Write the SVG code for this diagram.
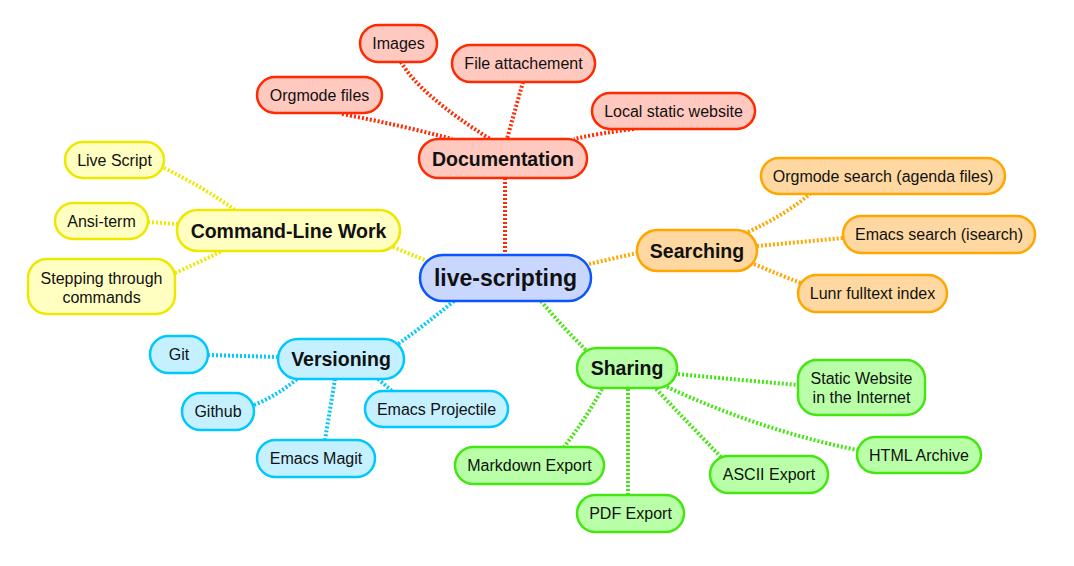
<svg xmlns="http://www.w3.org/2000/svg" width="1074" height="566" viewBox="0 0 1074 566">
<style>
text{font-family:"Liberation Sans",Arial,sans-serif;fill:#111;text-anchor:middle;dominant-baseline:central}
.leaf{font-size:16px}
.br{font-size:19.5px;font-weight:bold}
.root{font-size:23px;font-weight:bold}
rect{stroke-width:2.5}
.red rect{fill:#ffc9bf;stroke:#ff2a00}
.yel rect{fill:#ffffc2;stroke:#eee800}
.org rect{fill:#fed8a0;stroke:#ffa600}
.blu rect{fill:#c9d7ff;stroke:#0a55ff}
.cyn rect{fill:#c4f0ff;stroke:#00c8ff}
.grn rect{fill:#b8ffa8;stroke:#44e611}
#connectors path{fill:none;stroke-width:4;stroke-dasharray:2 2}
.cr{stroke:#ff2a00}.cy{stroke:#eee800}.co{stroke:#ffa600}.cc{stroke:#00c8ff}.cg{stroke:#44e611}
</style>
<rect width="1074" height="566" fill="#fff" stroke="none"/>
<g id="connectors">
<path class="cr" d="M505 178 L505 255"/>
<path class="cr" d="M342 114 Q400 125 452 139"/>
<path class="cr" d="M401 62 Q420 95 490 139"/>
<path class="cr" d="M523 82 Q515 110 507 139"/>
<path class="cr" d="M634 129 Q600 133 574 139"/>
<path class="cy" d="M393 247 L427 261"/>
<path class="cy" d="M164 168 Q205 188 235 210"/>
<path class="cy" d="M148 222 L177 224"/>
<path class="cy" d="M175 273 Q200 262 222 251"/>
<path class="co" d="M589 264 L637 253"/>
<path class="co" d="M748 232 Q785 215 810 194"/>
<path class="co" d="M757 246 L843 238"/>
<path class="co" d="M754 264 Q780 275 801 283"/>
<path class="cc" d="M454 301 Q425 325 398 344"/>
<path class="cc" d="M208 355 L278 357"/>
<path class="cc" d="M254 405 Q278 395 297 379"/>
<path class="cc" d="M335 379 L325 440"/>
<path class="cc" d="M378 379 L392 391"/>
<path class="cg" d="M541 301 Q565 330 588 352"/>
<path class="cg" d="M678 374 Q740 380 798 385"/>
<path class="cg" d="M667 387 Q760 430 857 450"/>
<path class="cg" d="M656 389 Q690 425 721 457"/>
<path class="cg" d="M628 389 L628 495"/>
<path class="cg" d="M602 389 Q585 420 564 447"/>
</g>
<g id="live-scripting" class="blu"><rect x="420" y="255" width="171" height="46" rx="23"/><text class="root" x="505.5" y="278">live-scripting</text></g>
<g id="documentation" class="red"><rect x="419" y="139" width="168" height="39" rx="19.5"/><text class="br" x="503" y="158.5">Documentation</text></g>
<g id="images" class="red"><rect x="360" y="25" width="77" height="37" rx="18.5"/><text class="leaf" x="398.5" y="43.5">Images</text></g>
<g id="file-attachement" class="red"><rect x="452" y="45" width="143" height="37" rx="18.5"/><text class="leaf" x="523.5" y="63.5">File attachement</text></g>
<g id="orgmode-files" class="red"><rect x="257" y="77" width="125" height="36" rx="18"/><text class="leaf" x="319.5" y="95">Orgmode files</text></g>
<g id="local-static-website" class="red"><rect x="592" y="93" width="163" height="36" rx="18"/><text class="leaf" x="673.5" y="111">Local static website</text></g>
<g id="command-line-work" class="yel"><rect x="177" y="210" width="223" height="41" rx="20.5"/><text class="br" x="288.5" y="230.5">Command-Line Work</text></g>
<g id="live-script" class="yel"><rect x="65" y="142" width="99" height="36" rx="18"/><text class="leaf" x="114.5" y="160">Live Script</text></g>
<g id="ansi-term" class="yel"><rect x="55" y="203" width="93" height="36" rx="18"/><text class="leaf" x="101.5" y="221">Ansi-term</text></g>
<g id="stepping" class="yel"><rect x="28" y="259" width="147" height="55" rx="19"/><text class="leaf" x="101.5" y="278">Stepping through</text><text class="leaf" x="101.5" y="297">commands</text></g>
<g id="searching" class="org"><rect x="637" y="230" width="120" height="41" rx="20.5"/><text class="br" x="697" y="250.5">Searching</text></g>
<g id="orgmode-search" class="org"><rect x="761" y="158" width="244" height="36" rx="18"/><text class="leaf" x="883" y="176">Orgmode search (agenda files)</text></g>
<g id="emacs-search" class="org"><rect x="843" y="216" width="192" height="37" rx="18.5"/><text class="leaf" x="939" y="234.5">Emacs search (isearch)</text></g>
<g id="lunr" class="org"><rect x="798" y="275" width="149" height="37" rx="18.5"/><text class="leaf" x="872.5" y="293.5">Lunr fulltext index</text></g>
<g id="versioning" class="cyn"><rect x="278" y="339" width="126" height="40" rx="20"/><text class="br" x="341" y="359">Versioning</text></g>
<g id="git" class="cyn"><rect x="150" y="336" width="58" height="37" rx="18.5"/><text class="leaf" x="179" y="354.5">Git</text></g>
<g id="github" class="cyn"><rect x="182" y="393" width="72" height="37" rx="18.5"/><text class="leaf" x="218" y="411.5">Github</text></g>
<g id="emacs-projectile" class="cyn"><rect x="365" y="391" width="143" height="36" rx="18"/><text class="leaf" x="436.5" y="409">Emacs Projectile</text></g>
<g id="emacs-magit" class="cyn"><rect x="257" y="440" width="118" height="37" rx="18.5"/><text class="leaf" x="316" y="458.5">Emacs Magit</text></g>
<g id="sharing" class="grn"><rect x="577" y="348" width="100" height="40" rx="20"/><text class="br" x="627" y="368">Sharing</text></g>
<g id="static-website" class="grn"><rect x="798" y="360" width="127" height="55" rx="19"/><text class="leaf" x="861.5" y="378">Static Website</text><text class="leaf" x="861.5" y="397">in the Internet</text></g>
<g id="html-archive" class="grn"><rect x="857" y="437" width="124" height="36" rx="18"/><text class="leaf" x="919" y="455">HTML Archive</text></g>
<g id="ascii-export" class="grn"><rect x="710" y="456" width="118" height="37" rx="18.5"/><text class="leaf" x="769" y="474.5">ASCII Export</text></g>
<g id="pdf-export" class="grn"><rect x="577" y="495" width="107" height="37" rx="18.5"/><text class="leaf" x="630.5" y="513.5">PDF Export</text></g>
<g id="markdown-export" class="grn"><rect x="455" y="447" width="149" height="37" rx="18.5"/><text class="leaf" x="529.5" y="465.5">Markdown Export</text></g>
</svg>
